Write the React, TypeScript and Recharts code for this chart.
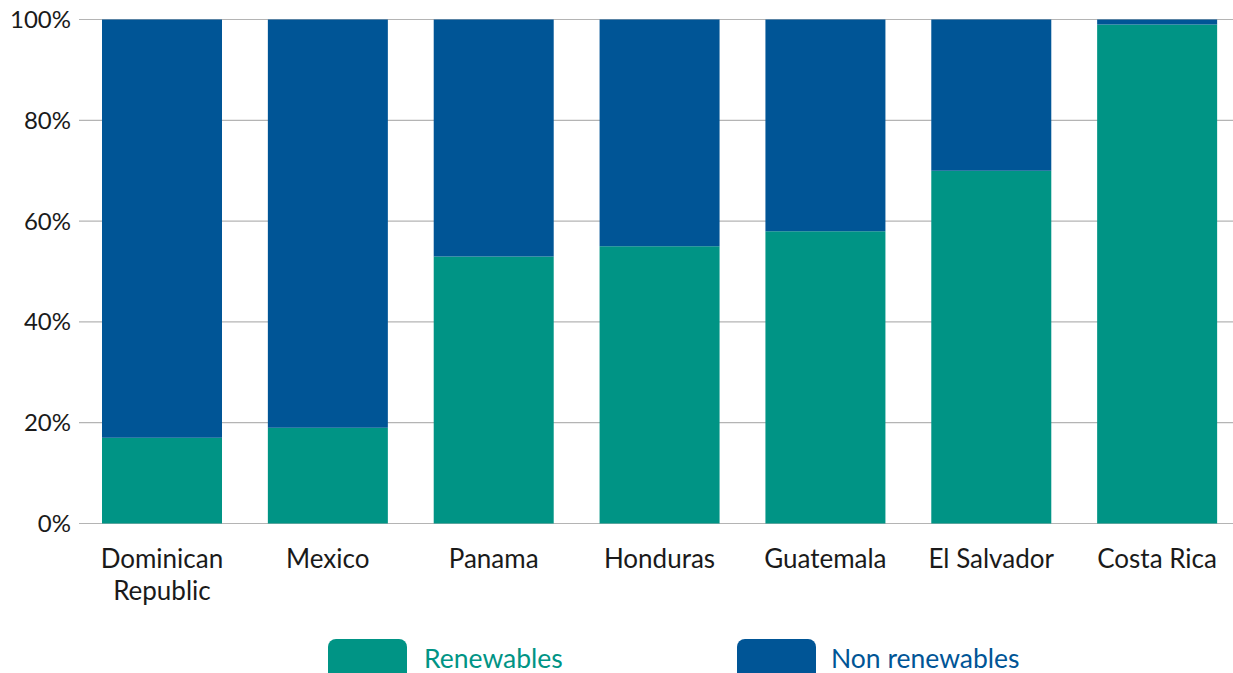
import React from "react";
import { BarChart, Bar, XAxis, YAxis, CartesianGrid } from "recharts";

const countries = ["Dominican Republic", "Mexico", "Panama", "Honduras", "Guatemala", "El Salvador", "Costa Rica"];
const renewables = [17, 19, 53, 55, 58, 70, 99];
const nonRenewables = [83, 81, 47, 45, 42, 30, 1];
const wrappedLabels: Record<string, string[]> = {
  "Dominican Republic": ["Dominican", "Republic"],
};
const yTicks = [0, 20, 40, 60, 80, 100];

const GREEN = "#009485";
const BLUE = "#005596";
const FONT = "Lato, sans-serif";

const data = countries.map((country, i) => ({
  country,
  renewables: renewables[i],
  nonRenewables: nonRenewables[i],
}));

function CountryTick({ x, y, payload }: any) {
  const lines = wrappedLabels[payload.value] || [payload.value];
  return (
    <text x={x} y={y + 44} textAnchor="middle" fill="#1a1a1a" fontSize={26} fontFamily={FONT}>
      {lines.map((line, i) => (
        <tspan key={line} x={x} dy={i === 0 ? 0 : 32}>
          {line}
        </tspan>
      ))}
    </text>
  );
}

function LegendItem({ left, textLeft, color, label }: { left: number; textLeft: number; color: string; label: string }) {
  return (
    <>
      <div
        style={{
          position: "absolute",
          left,
          top: 639,
          width: 79,
          height: 44,
          borderRadius: 8,
          background: color,
        }}
      />
      <div
        style={{
          position: "absolute",
          left: textLeft,
          top: 644,
          lineHeight: "28px",
          fontSize: 26.5,
          fontFamily: FONT,
          color,
          whiteSpace: "nowrap",
        }}
      >
        {label}
      </div>
    </>
  );
}

export default function App() {
  return (
    <div
      style={{
        position: "absolute",
        left: 0,
        top: 0,
        width: 1233,
        height: 673,
        overflow: "hidden",
        background: "#fff",
      }}
    >
      <BarChart
        width={1240}
        height={673}
        data={data}
        margin={{ top: 19.5, right: 0, left: 0, bottom: 0 }}
      >
        <CartesianGrid vertical={false} stroke="#b4b4b4" strokeWidth={1.2} />
        <XAxis
          dataKey="country"
          axisLine={false}
          tickLine={false}
          tickSize={0}
          tickMargin={0}
          height={149.5}
          interval={0}
          tick={<CountryTick />}
        />
        <YAxis
          domain={[0, 100]}
          ticks={yTicks}
          width={79}
          axisLine={false}
          tickLine={false}
          tickSize={0}
          tickMargin={8}
          tickFormatter={(v: number) => `${v}%`}
          tick={{ fill: "#1a1a1a", fontSize: 24, fontFamily: FONT }}
        />
        <Bar dataKey="renewables" stackId="a" fill={GREEN} barSize={120} isAnimationActive={false} />
        <Bar dataKey="nonRenewables" stackId="a" fill={BLUE} barSize={120} isAnimationActive={false} />
      </BarChart>
      <LegendItem left={328} textLeft={424} color={GREEN} label="Renewables" />
      <LegendItem left={737} textLeft={831} color={BLUE} label="Non renewables" />
    </div>
  );
}
